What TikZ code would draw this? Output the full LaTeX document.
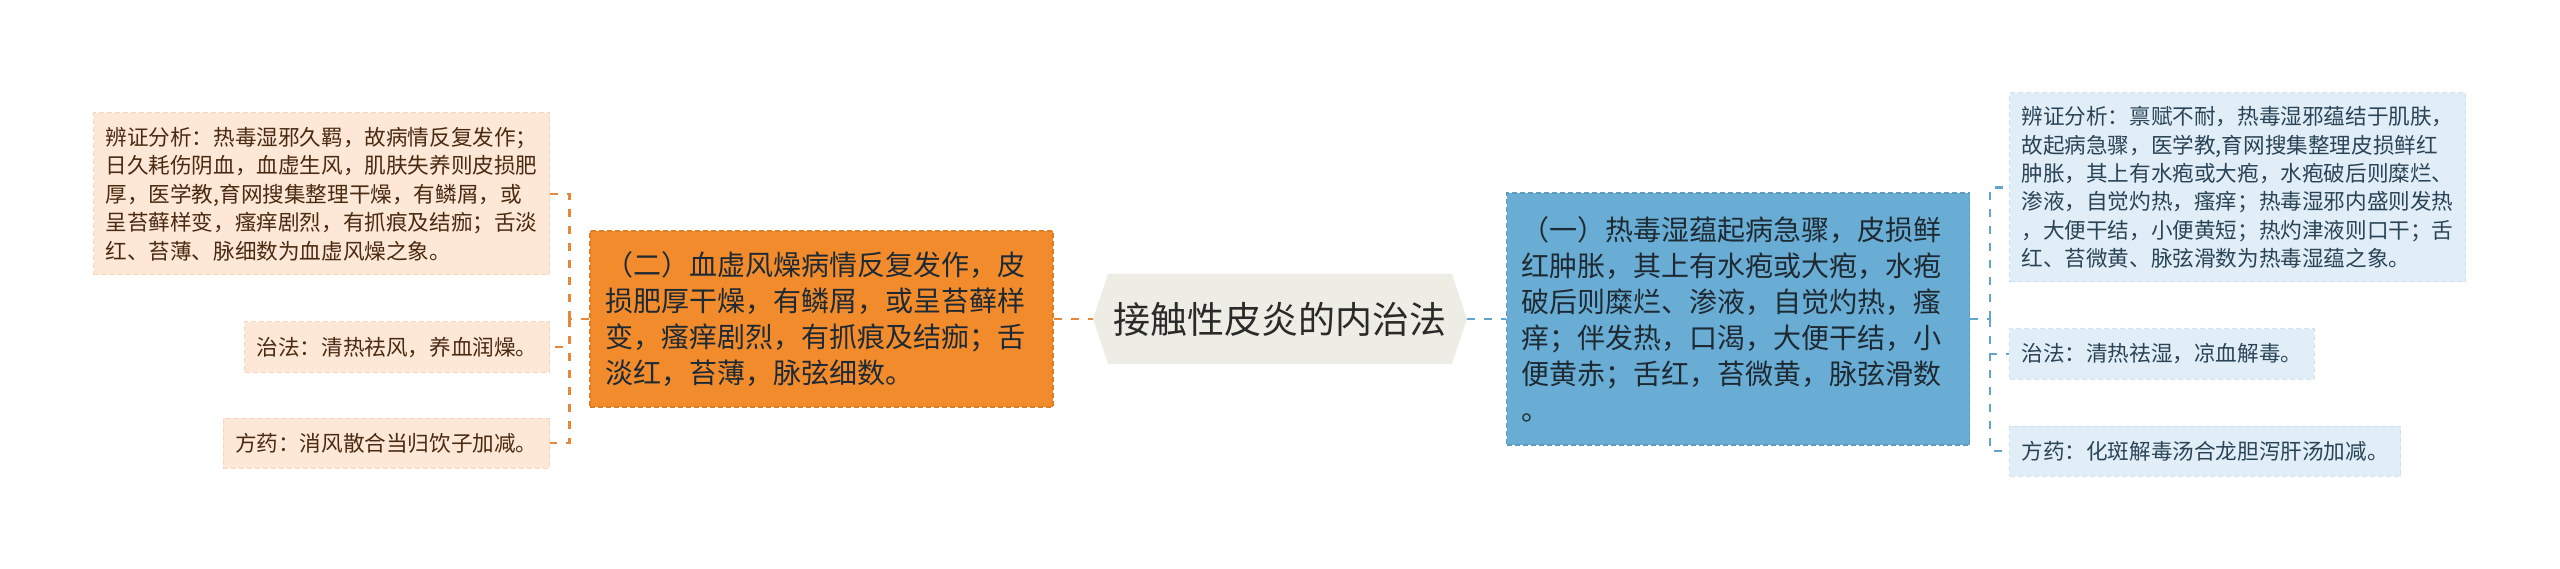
\documentclass[tikz,border=0pt]{standalone}
\usepackage{fontspec}
\setmainfont{Noto Sans CJK SC}
\usetikzlibrary{shapes.symbols}

\definecolor{rootfill}{HTML}{EDEDE5}
\definecolor{roottext}{HTML}{2A2A2A}
\definecolor{orangemain}{HTML}{F28B2C}
\definecolor{orangeedge}{HTML}{E27B1F}
\definecolor{orangeline}{HTML}{E8863A}
\definecolor{peachfill}{HTML}{FDE8D7}
\definecolor{peachedge}{HTML}{F8D6BE}
\definecolor{browntext}{HTML}{4B2A12}
\definecolor{bluemain}{HTML}{6AADD4}
\definecolor{blueedge}{HTML}{5B9DC5}
\definecolor{blueline}{HTML}{62A6CF}
\definecolor{skyfill}{HTML}{E2EEF7}
\definecolor{skyedge}{HTML}{D0E2EF}
\definecolor{navytext}{HTML}{2A4457}
\definecolor{darktext}{HTML}{1E2A33}

\tikzset{
  leaf/.style={draw, dash pattern=on 5pt off 3pt, line width=1pt, inner xsep=12pt, inner ysep=0pt,
    minimum height=50pt, align=left, font=\fontsize{21.6}{28.4}\selectfont},
  lleaf/.style={leaf, fill=peachfill, draw=peachedge, text=browntext},
  rleaf/.style={leaf, fill=skyfill, draw=skyedge, text=navytext},
  subbox/.style={draw, dash pattern=on 5pt off 3pt, line width=1.2pt, inner xsep=15pt, inner ysep=0pt,
    text width=433pt, align=left, font=\fontsize{28}{36}\selectfont},
  rootbox/.style={signal, signal to=west and east, signal pointer angle=143, fill=rootfill,
    text=roottext, minimum width=374pt, minimum height=90pt, inner sep=0pt, font=\fontsize{37}{44}\selectfont},
  lline/.style={draw=orangeline, line width=2.2pt, dash pattern=on 8pt off 9pt},
  rline/.style={draw=blueline, line width=2.2pt, dash pattern=on 8pt off 9pt}
}

\begin{document}
\begin{tikzpicture}[x=1pt,y=-1pt]
\useasboundingbox (0,0) rectangle (2560,569);

\node [rootbox] (root) at (1280,319) {接触性皮炎的内治法};

\node [subbox, fill=orangemain, draw=orangeedge, text=darktext, minimum height=176pt] (lsub) at (821.5,319)
  {（二）血虚风燥病情反复发作，皮\\损肥厚干燥，有鳞屑，或呈苔藓样\\变，瘙痒剧烈，有抓痕及结痂；舌\\淡红，苔薄，脉弦细数。};
\node [subbox, fill=bluemain, draw=blueedge, text=darktext, minimum height=252pt] (rsub) at (1738,319)
  {（一）热毒湿蕴起病急骤，皮损鲜\\红肿胀，其上有水疱或大疱，水疱\\破后则糜烂、渗液，自觉灼热，瘙\\痒；伴发热，口渴，大便干结，小\\便黄赤；舌红，苔微黄，脉弦滑数\\。};

\node [lleaf, anchor=east, minimum height=162pt] (ltop) at (550,194)
  {辨证分析：热毒湿邪久羁，故病情反复发作；\\日久耗伤阴血，血虚生风，肌肤失养则皮损肥\\厚，医学教,育网搜集整理干燥，有鳞屑，或\\呈苔藓样变，瘙痒剧烈，有抓痕及结痂；舌淡\\红、苔薄、脉细数为血虚风燥之象。};
\node [lleaf, anchor=east] (lzhi) at (550,347) {治法：清热祛风，养血润燥。};
\node [lleaf, anchor=east] (lfang) at (550,443) {方药：消风散合当归饮子加减。};

\node [rleaf, anchor=west, minimum height=189pt] (rtop) at (2009,187.5)
  {辨证分析：禀赋不耐，热毒湿邪蕴结于肌肤，\\故起病急骤，医学教,育网搜集整理皮损鲜红\\肿胀，其上有水疱或大疱，水疱破后则糜烂、\\渗液，自觉灼热，瘙痒；热毒湿邪内盛则发热\\，大便干结，小便黄短；热灼津液则口干；舌\\红、苔微黄、脉弦滑数为热毒湿蕴之象。};
\node [rleaf, anchor=west] (rzhi) at (2009,354) {治法：清热祛湿，凉血解毒。};
\node [rleaf, anchor=west] (rfang) at (2009,451) {方药：化斑解毒汤合龙胆泻肝汤加减。};

\draw [lline] (lsub.east) -- (root.west);
\draw [rline] (root.east) -- (rsub.west);

\draw [lline] (lsub.west) -- ++(-20,0) coordinate (lfork);
\draw [lline] (lfork) |- (ltop.east);
\draw [lline] (lfork) |- (lzhi.east);
\draw [lline] (lfork) |- (lfang.east);

\draw [rline] (rsub.east) -- ++(20,0) coordinate (rfork);
\draw [rline] (rfork) |- (rtop.west);
\draw [rline] (rfork) |- (rzhi.west);
\draw [rline] (rfork) |- (rfang.west);

\end{tikzpicture}
\end{document}
